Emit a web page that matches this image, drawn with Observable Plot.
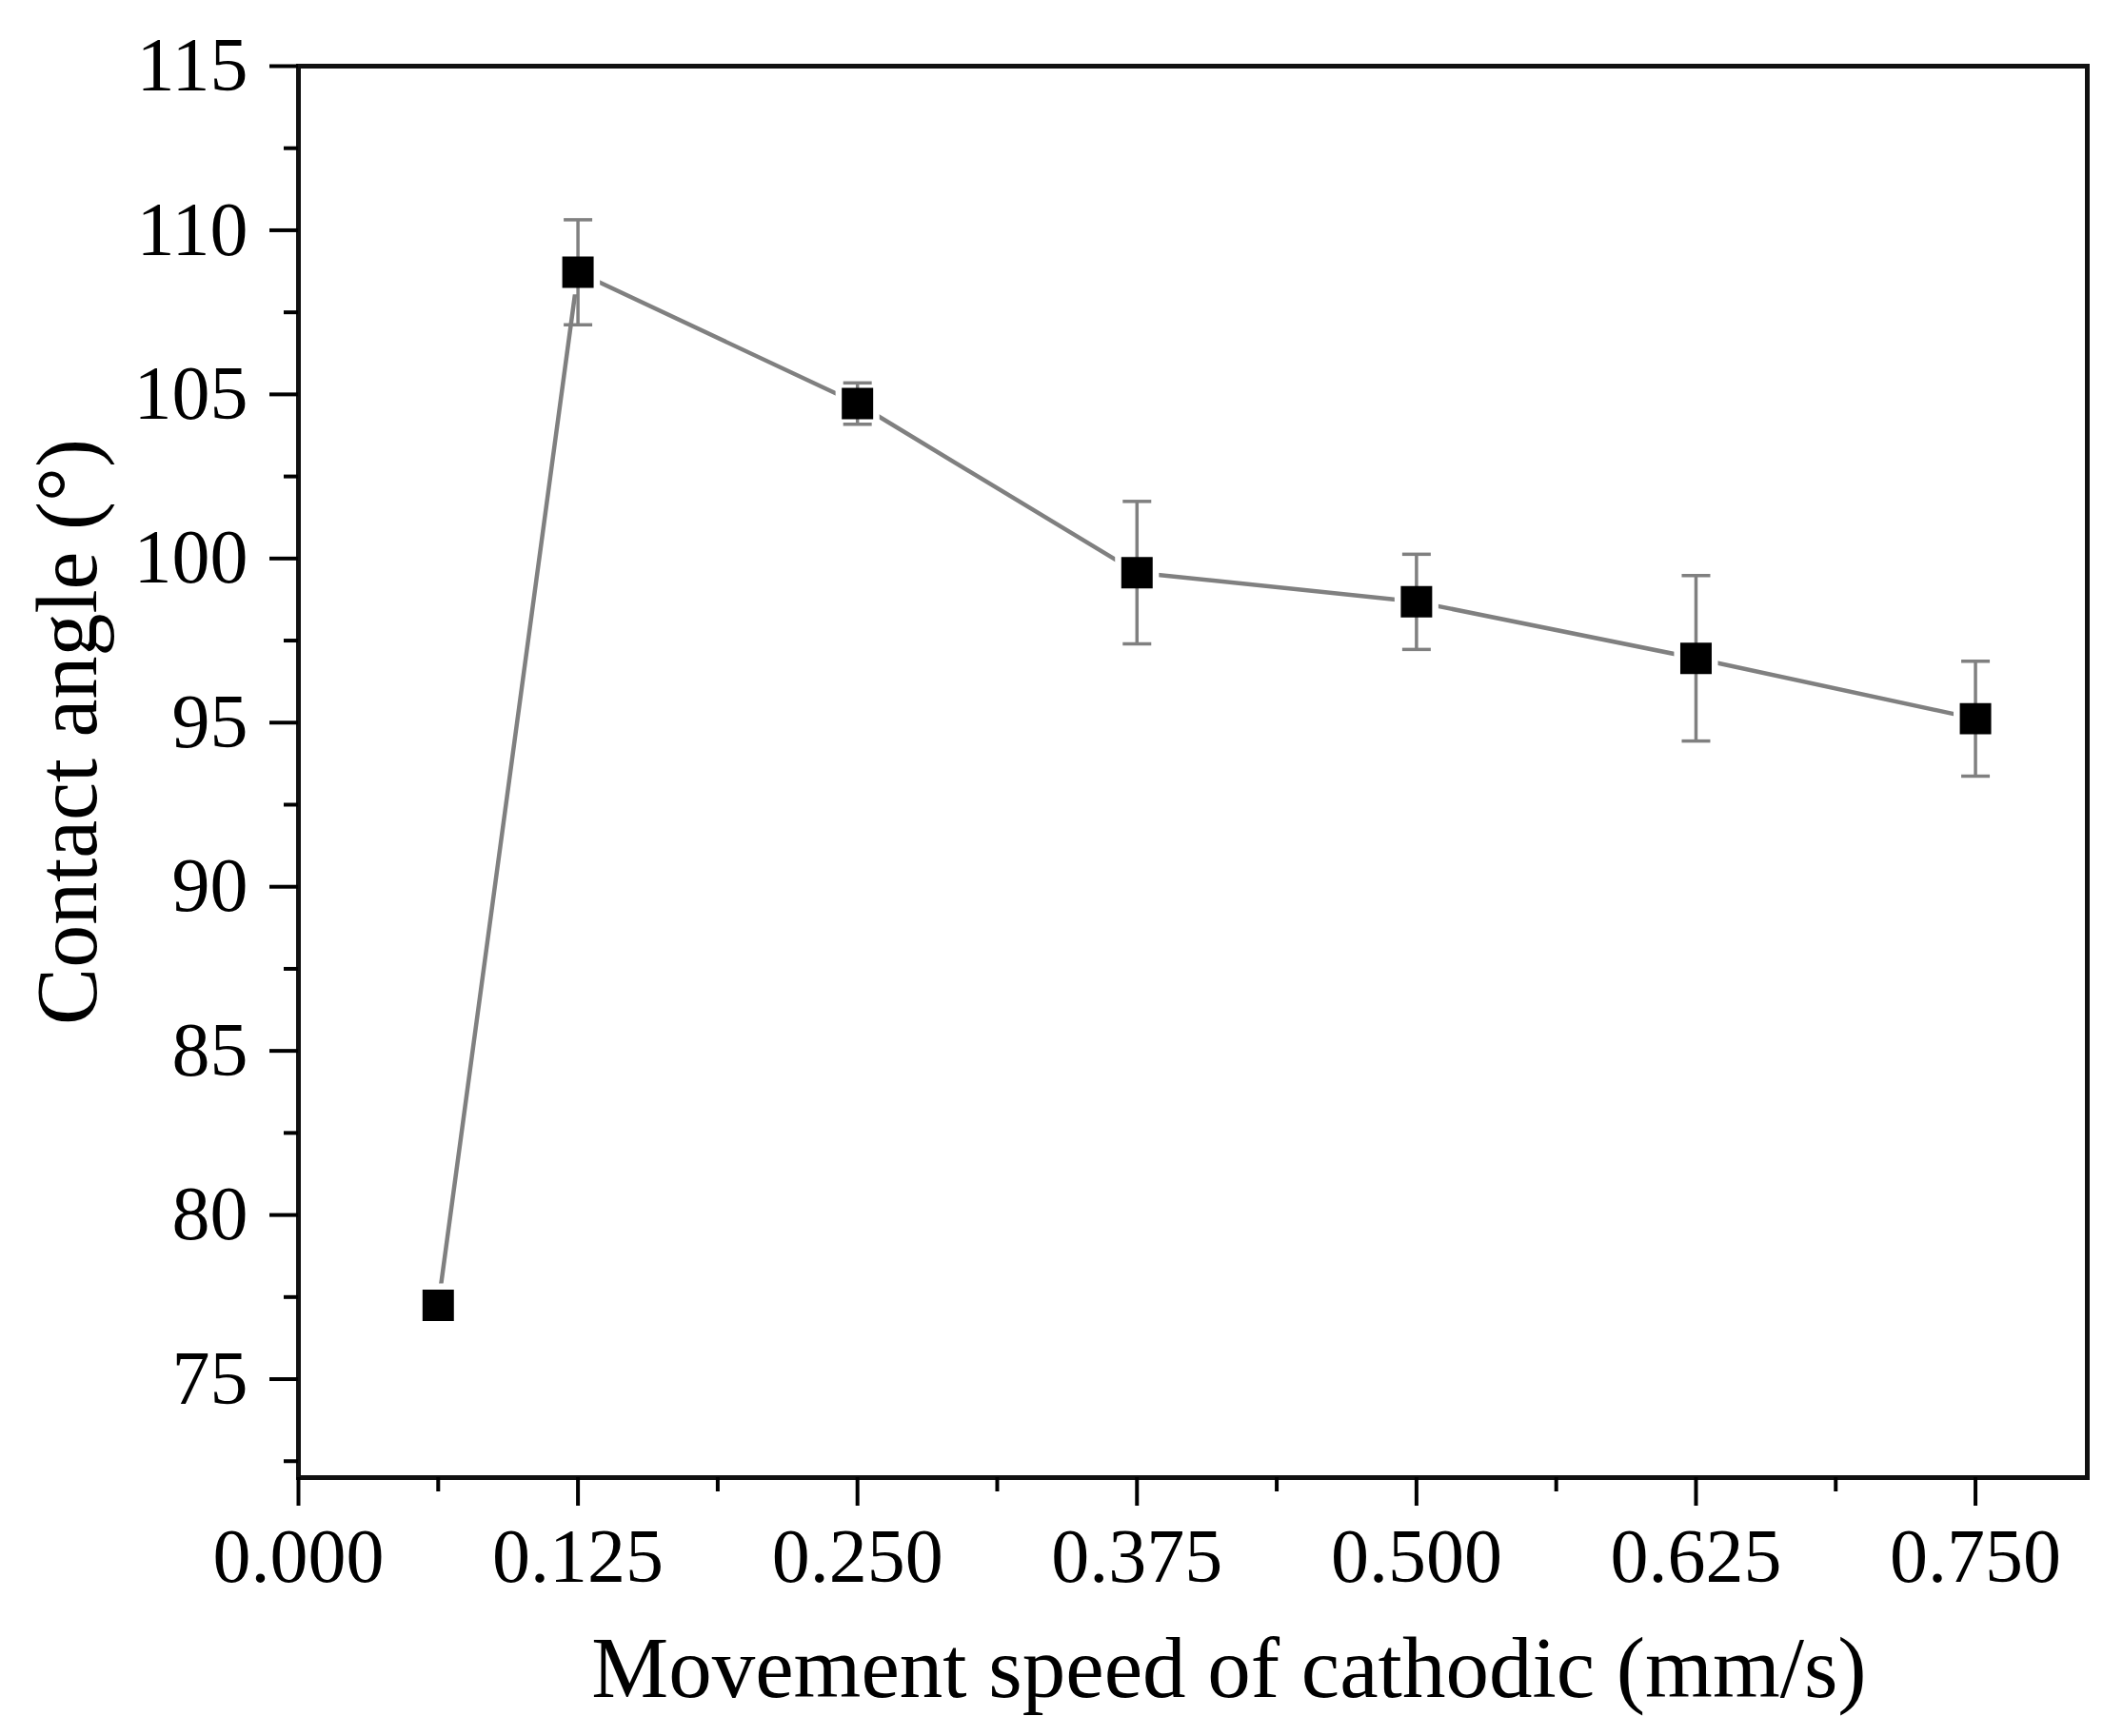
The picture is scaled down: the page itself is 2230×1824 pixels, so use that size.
<!DOCTYPE html>
<html>
<head>
<meta charset="utf-8">
<script src="https://cdn.jsdelivr.net/npm/d3@7"></script>
<script src="https://cdn.jsdelivr.net/npm/@observablehq/plot@0.6"></script>
<style>
  html, body { margin: 0; padding: 0; background: #fff; }
  #chart svg { display: block; }
</style>
</head>
<body>
<div id="chart"></div>
<script>
// Data
const speed = [0.0625, 0.125, 0.25, 0.375, 0.5, 0.625, 0.75];
const angle = [77.25, 108.72, 104.72, 99.57, 98.68, 96.96, 95.12];
const angleErr = [0.35, 1.6, 0.63, 2.17, 1.45, 2.52, 1.75];

// Axis ticks
const yMajor = [75, 80, 85, 90, 95, 100, 105, 110, 115];
const yMinor = [72.5, 77.5, 82.5, 87.5, 92.5, 97.5, 102.5, 107.5, 112.5];
const xMajor = [0, 0.125, 0.25, 0.375, 0.5, 0.625, 0.75];
const xMinor = [0.0625, 0.1875, 0.3125, 0.4375, 0.5625, 0.6875];

const xTitle = "Movement speed of cathodic (mm/s)";
const yTitle = "Contact angle (°)";

const rows = speed.map((x, i) => ({x, y: angle[i], lo: angle[i] - angleErr[i], hi: angle[i] + angleErr[i]}));

const gray = "#808080";
const capSymbol = {draw(ctx) { ctx.moveTo(-15, 0); ctx.lineTo(15, 0); }};

const chart = Plot.plot({
  width: 2230,
  height: 1824,
  marginLeft: 313,
  marginRight: 38,
  marginTop: 69,
  marginBottom: 272,
  style: {fontFamily: "'Liberation Serif', 'Times New Roman', serif", background: "#fff", color: "#000", overflow: "visible"},
  x: {domain: [0, 0.8]},
  y: {domain: [72, 115]},
  marks: [
    Plot.line(rows, {x: "x", y: "y", stroke: gray, strokeWidth: 4.5}),
    Plot.dot(rows, {x: "x", y: "y", symbol: "square", r: 26, fill: "#fff"}),
    Plot.ruleX(rows, {x: "x", y1: "lo", y2: "hi", stroke: gray, strokeWidth: 3.5}),
    Plot.dot(rows, {x: "x", y: "hi", symbol: capSymbol, stroke: gray, strokeWidth: 3.5}),
    Plot.dot(rows, {x: "x", y: "lo", symbol: capSymbol, stroke: gray, strokeWidth: 3.5}),
    Plot.dot(rows, {x: "x", y: "y", symbol: "square", r: 18.6, fill: "#000"}),
    Plot.frame({stroke: "#111", strokeWidth: 5}),
    Plot.axisY(yMajor, {anchor: "left", tickSize: 30, tickPadding: 23, strokeWidth: 4, fontSize: 80, tickFormat: d => String(d), label: null}),
    Plot.axisY(yMinor, {anchor: "left", tickSize: 15, strokeWidth: 4, tickFormat: () => "", label: null}),
    Plot.axisX(xMajor, {anchor: "bottom", tickSize: 30, tickPadding: 23, strokeWidth: 4, fontSize: 80, tickFormat: d3.format(".3f"), label: null}),
    Plot.axisX(xMinor, {anchor: "bottom", tickSize: 15, strokeWidth: 4, tickFormat: () => "", label: null}),
    Plot.text([xTitle], {text: d => d, frameAnchor: "bottom", textAnchor: "middle", lineAnchor: "bottom", dx: 38, dy: 230, fontSize: 91, fill: "#000"}),
    Plot.text([yTitle], {text: d => d, frameAnchor: "left", textAnchor: "middle", lineAnchor: "bottom", rotate: -90, dx: -213, dy: -42, fontSize: 90, fill: "#000"})
  ]
});
document.getElementById("chart").appendChild(chart);
</script>
</body>
</html>
